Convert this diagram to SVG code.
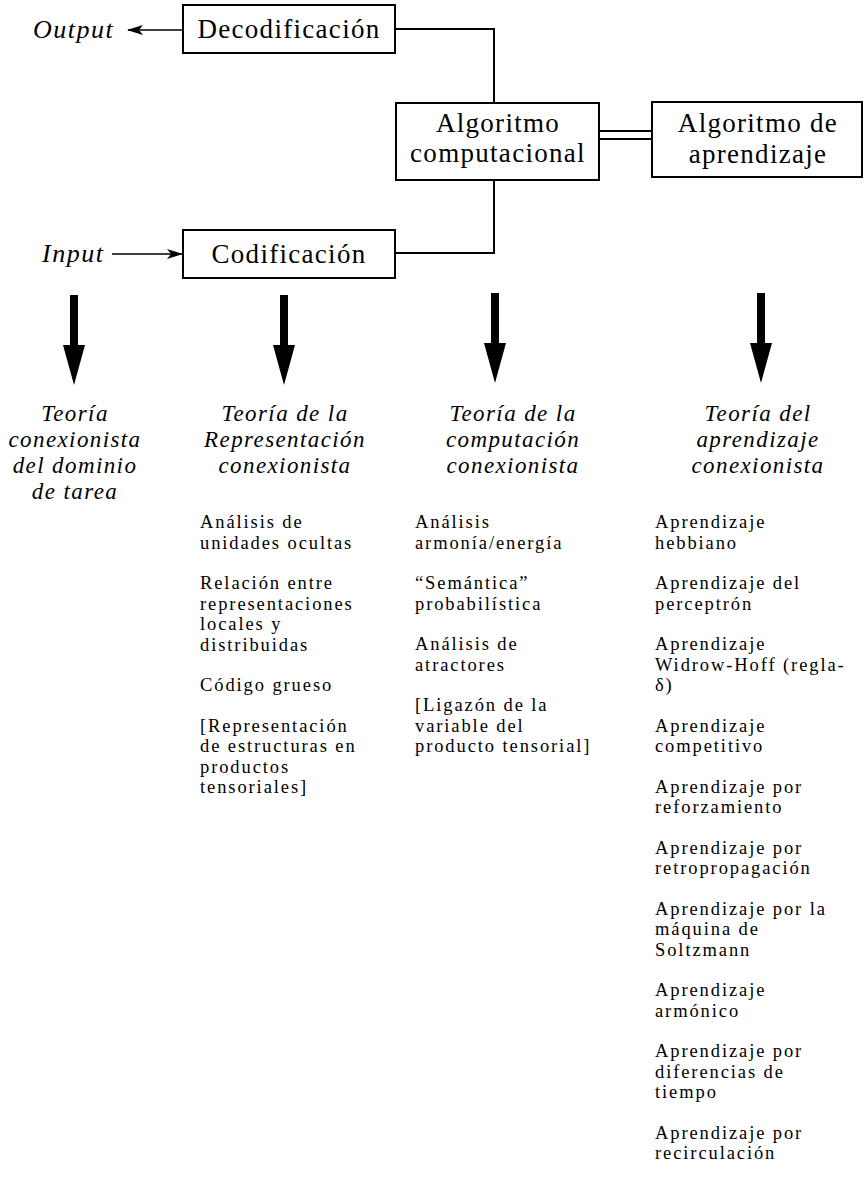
<svg xmlns="http://www.w3.org/2000/svg" width="864" height="1192" viewBox="0 0 864 1192">
<style>
.box{fill:#fff;stroke:#000;stroke-width:2}
.bt{font-family:"Liberation Serif",serif;font-size:27px;letter-spacing:1.3px;text-anchor:middle;fill:#000}
.io{font-family:"Liberation Serif",serif;font-size:26px;font-style:italic;letter-spacing:1.5px;fill:#000}
.hd{font-family:"Liberation Serif",serif;font-size:23px;font-style:italic;letter-spacing:1.4px;text-anchor:middle;fill:#000}
.it{font-family:"Liberation Serif",serif;font-size:18.5px;letter-spacing:1.9px;fill:#000}
.ln{fill:none;stroke:#000;stroke-width:2}
.thin{fill:none;stroke:#000;stroke-width:1.5}
</style>
<defs>
<marker id="ah" viewBox="0 0 16 10" refX="15" refY="5" markerWidth="16" markerHeight="10" markerUnits="userSpaceOnUse" orient="auto">
<path d="M0,0 L16,5 L0,10 L4,5 Z" fill="#000"/>
</marker>
<path id="big" d="M-4,0 L4,0 L4,50 L11,50 L0,90 L-11,50 L-4,50 Z" fill="#000"/>
</defs>

<g id="connectors">
<line class="thin" x1="182" y1="30" x2="128" y2="30" marker-end="url(#ah)"/>
<line class="thin" x1="112" y1="254" x2="182" y2="254" marker-end="url(#ah)"/>
<polyline class="ln" points="395,29 494,29 494,103"/>
<polyline class="ln" points="494,180 494,253 395,253"/>
<line class="ln" x1="599" y1="131" x2="652" y2="131"/>
<line class="ln" x1="599" y1="139" x2="652" y2="139"/>
<use href="#big" x="74" y="295"/>
<use href="#big" x="284" y="295"/>
<use href="#big" x="495" y="293"/>
<use href="#big" x="761" y="293"/>
</g>

<g id="output"><text class="io" x="33" y="38">Output</text></g>
<g id="input"><text class="io" x="42" y="262">Input</text></g>

<g id="decodificacion">
<rect class="box" x="183" y="5" width="212" height="48"/>
<text class="bt" x="289" y="38">Decodificación</text>
</g>
<g id="codificacion">
<rect class="box" x="183" y="230" width="212" height="48"/>
<text class="bt" x="289" y="263">Codificación</text>
</g>
<g id="algoritmo-computacional">
<rect class="box" x="396" y="103" width="203" height="77"/>
<text class="bt" x="498" y="132">Algoritmo</text>
<text class="bt" x="498" y="162">computacional</text>
</g>
<g id="algoritmo-aprendizaje">
<rect class="box" x="652" y="102" width="210" height="75"/>
<text class="bt" x="758" y="132">Algoritmo de</text>
<text class="bt" x="758" y="163">aprendizaje</text>
</g>

<g id="teoria-dominio">
<text class="hd" x="75" y="421">Teoría</text>
<text class="hd" x="75" y="447">conexionista</text>
<text class="hd" x="75" y="473">del dominio</text>
<text class="hd" x="75" y="499">de tarea</text>
</g>

<g id="teoria-representacion">
<text class="hd" x="285" y="421">Teoría de la</text>
<text class="hd" x="285" y="447">Representación</text>
<text class="hd" x="285" y="473">conexionista</text>
<text class="it" x="200" y="528">Análisis de</text>
<text class="it" x="200" y="548.5">unidades ocultas</text>
<text class="it" x="200" y="589">Relación entre</text>
<text class="it" x="200" y="609.5">representaciones</text>
<text class="it" x="200" y="630">locales y</text>
<text class="it" x="200" y="650.5">distribuidas</text>
<text class="it" x="200" y="691">Código grueso</text>
<text class="it" x="200" y="731.5">[Representación</text>
<text class="it" x="200" y="752">de estructuras en</text>
<text class="it" x="200" y="772.5">productos</text>
<text class="it" x="200" y="793">tensoriales]</text>
</g>

<g id="teoria-computacion">
<text class="hd" x="513" y="421">Teoría de la</text>
<text class="hd" x="513" y="447">computación</text>
<text class="hd" x="513" y="473">conexionista</text>
<text class="it" x="415" y="528">Análisis</text>
<text class="it" x="415" y="548.5">armonía/energía</text>
<text class="it" x="415" y="589">“Semántica”</text>
<text class="it" x="415" y="609.5">probabilística</text>
<text class="it" x="415" y="650">Análisis de</text>
<text class="it" x="415" y="670.5">atractores</text>
<text class="it" x="415" y="711">[Ligazón de la</text>
<text class="it" x="415" y="731.5">variable del</text>
<text class="it" x="415" y="752">producto tensorial]</text>
</g>

<g id="teoria-aprendizaje">
<text class="hd" x="758" y="421">Teoría del</text>
<text class="hd" x="758" y="447">aprendizaje</text>
<text class="hd" x="758" y="473">conexionista</text>
<text class="it" x="655" y="528">Aprendizaje</text>
<text class="it" x="655" y="548.5">hebbiano</text>
<text class="it" x="655" y="589">Aprendizaje del</text>
<text class="it" x="655" y="609.5">perceptrón</text>
<text class="it" x="655" y="650">Aprendizaje</text>
<text class="it" x="655" y="670.5">Widrow-Hoff (regla-</text>
<text class="it" x="655" y="691">δ)</text>
<text class="it" x="655" y="731.5">Aprendizaje</text>
<text class="it" x="655" y="752">competitivo</text>
<text class="it" x="655" y="792.5">Aprendizaje por</text>
<text class="it" x="655" y="813">reforzamiento</text>
<text class="it" x="655" y="853.5">Aprendizaje por</text>
<text class="it" x="655" y="874">retropropagación</text>
<text class="it" x="655" y="914.5">Aprendizaje por la</text>
<text class="it" x="655" y="935">máquina de</text>
<text class="it" x="655" y="955.5">Soltzmann</text>
<text class="it" x="655" y="996">Aprendizaje</text>
<text class="it" x="655" y="1016.5">armónico</text>
<text class="it" x="655" y="1057">Aprendizaje por</text>
<text class="it" x="655" y="1077.5">diferencias de</text>
<text class="it" x="655" y="1098">tiempo</text>
<text class="it" x="655" y="1138.5">Aprendizaje por</text>
<text class="it" x="655" y="1159">recirculación</text>
</g>
</svg>
